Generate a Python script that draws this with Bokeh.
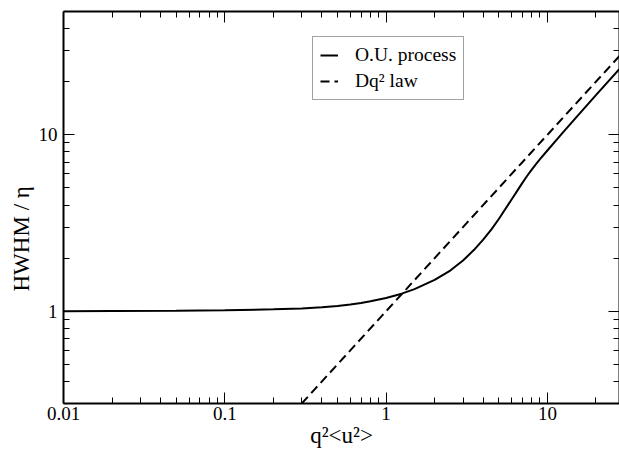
from bokeh.plotting import figure
from bokeh.models import (LogAxis, FixedTicker, CustomJSTickFormatter, Title,
                          Legend, LegendItem, ColumnDataSource, Range1d)
from bokeh.embed import file_html
from bokeh.resources import INLINE

# ---- data ----
ou_q2u2 = [0.01, 0.02, 0.05, 0.1, 0.2, 0.3, 0.4, 0.5, 0.6, 0.7, 0.8, 1.0,
           1.25, 1.5, 2.0, 2.5, 3.0, 3.5, 4.0, 4.5, 5.0, 6.0, 6.5, 7.0, 7.5,
           8.0, 8.5, 9.0, 10.0, 12.5, 15.0, 20.0, 28.0]
ou_hwhm = [1.000, 1.003, 1.008, 1.014, 1.025, 1.035, 1.053, 1.072, 1.092,
           1.114, 1.138, 1.190, 1.258, 1.334, 1.505, 1.701, 1.940, 2.222,
           2.546, 2.912, 3.333, 4.302, 4.812, 5.338, 5.863, 6.356, 6.827,
           7.279, 8.147, 10.32, 12.48, 16.78, 23.65]

law_q2u2 = [0.3, 1.0, 10.0, 28.0]
law_hwhm = [0.3, 1.0, 10.0, 28.0]

x_major_ticks = [0.01, 0.1, 1, 10]
x_minor_ticks = [0.02, 0.03, 0.04, 0.05, 0.06, 0.07, 0.08, 0.09,
                 0.2, 0.3, 0.4, 0.5, 0.6, 0.7, 0.8, 0.9,
                 2, 3, 4, 5, 6, 7, 8, 9, 20]
y_major_ticks = [1, 10]
y_minor_ticks = [0.3, 0.4, 0.5, 0.6, 0.7, 0.8, 0.9,
                 2, 3, 4, 5, 6, 7, 8, 9, 20, 30, 40]

x_label = "q\u00b2<u\u00b2>"
y_label = "HWHM / \u03b7"
series_names = ["O.U. process", "Dq\u00b2 law"]

X_MIN, X_MAX = 0.01, 28
Y_MIN, Y_MAX = 0.3, 50

FONT = "Liberation Serif"

p = figure(width=619, height=454, x_axis_type="log", y_axis_type="log",
           x_range=Range1d(X_MIN, X_MAX), y_range=Range1d(Y_MIN, Y_MAX),
           output_backend="svg", toolbar_location=None,
           min_border_left=63, min_border_right=0, min_border_top=11,
           min_border_bottom=51)
p.xgrid.visible = False
p.ygrid.visible = False
p.outline_line_color = None
p.background_fill_color = "white"
p.border_fill_color = "white"

fmt_js = "return tick >= 1 ? tick.toFixed(0) : tick.toPrecision(1);"


def style_axis(ax, major, minor, labels=True):
    ax.ticker = FixedTicker(ticks=major, minor_ticks=minor)
    ax.axis_line_color = "black"
    ax.axis_line_width = 2
    ax.major_tick_in = 11
    ax.major_tick_out = 0
    ax.minor_tick_in = 6
    ax.minor_tick_out = 0
    ax.major_tick_line_color = "black"
    ax.minor_tick_line_color = "black"
    ax.major_tick_line_width = 1
    ax.minor_tick_line_width = 1
    if labels:
        ax.major_label_text_font = FONT
        ax.major_label_text_font_size = "19px"
        ax.major_label_text_color = "black"
        ax.axis_label_text_font = FONT
        ax.axis_label_text_font_size = "23px"
        ax.axis_label_text_font_style = "normal"
        ax.axis_label_text_color = "black"
        ax.formatter = CustomJSTickFormatter(code=fmt_js)
    else:
        ax.major_label_text_font_size = "0px"
        ax.major_label_standoff = 0
        ax.formatter = CustomJSTickFormatter(code="return '';")


style_axis(p.xaxis[0], x_major_ticks, x_minor_ticks)
style_axis(p.yaxis[0], y_major_ticks, y_minor_ticks)
p.xaxis[0].axis_label = x_label
p.xaxis[0].major_label_standoff = 3
p.xaxis[0].axis_label_standoff = 0
p.yaxis[0].major_label_standoff = 6

# y axis title as a side title, anchored from the bottom of the frame
y_title = Title(text=y_label, align="left", offset=112, standoff=4,
                text_font=FONT, text_font_size="23px",
                text_font_style="normal", text_color="black")
p.add_layout(y_title, "left")

top_ax = LogAxis()
right_ax = LogAxis()
style_axis(top_ax, x_major_ticks, x_minor_ticks, labels=False)
style_axis(right_ax, y_major_ticks, y_minor_ticks, labels=False)
p.add_layout(top_ax, "above")
p.add_layout(right_ax, "right")

ou_src = ColumnDataSource(dict(x=ou_q2u2, y=ou_hwhm))
law_src = ColumnDataSource(dict(x=law_q2u2, y=law_hwhm))

r_ou = p.line("x", "y", source=ou_src, line_color="black", line_width=2)
r_law = p.line("x", "y", source=law_src, line_color="black", line_width=2,
               line_dash="9 5")

legend = Legend(items=[LegendItem(label=series_names[0], renderers=[r_ou]),
                       LegendItem(label=series_names[1], renderers=[r_law])],
                location=(249, 303))
legend.label_text_font = FONT
legend.label_text_font_size = "19.5px"
legend.label_text_color = "black"
legend.glyph_width = 18
legend.label_standoff = 17
legend.padding = 7
legend.spacing = 4
legend.label_height = 22
legend.glyph_height = 22
legend.margin = 0
legend.border_line_color = "#444444"
legend.border_line_width = 1
legend.background_fill_color = "white"
legend.background_fill_alpha = 1
p.add_layout(legend, "center")

open("out.html", "w").write(file_html(p, INLINE))
